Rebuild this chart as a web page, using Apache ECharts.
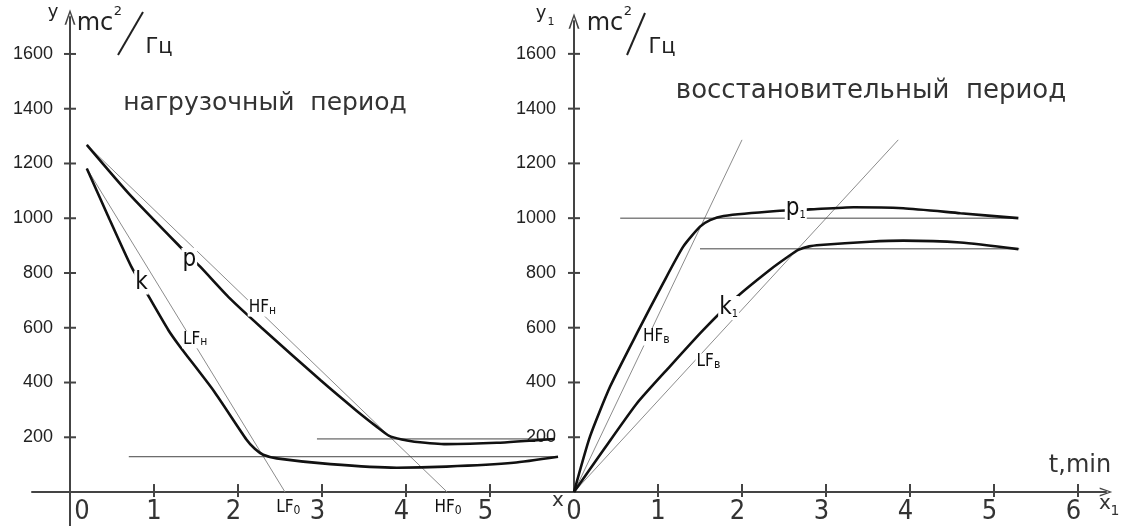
<!DOCTYPE html>
<html>
<head>
<meta charset="utf-8">
<script src="https://cdn.jsdelivr.net/npm/echarts@6/dist/echarts.min.js"></script>
<style>
html, body { margin: 0; padding: 0; background: #fff; }
#chart { width: 1126px; height: 526px; }
</style>
</head>
<body>
<div id="chart"></div>
<script>
// нагрузочный период (left panel), x in min, y in mc2/Гц
var pLoad = [[0.2, 1268], [0.7, 1090], [1.31, 896], [1.55, 823], [1.9, 708], [2.28, 600], [2.98, 409], [3.4, 300], [3.65, 239], [3.8, 205], [3.95, 192], [4.1, 184], [4.48, 175], [5.08, 180], [5.77, 194]]
var kLoad = [[0.2, 1182], [0.45, 1010], [0.73, 823], [0.93, 718], [1.17, 592], [1.31, 531], [1.71, 370], [2.1, 192], [2.2, 158], [2.3, 136], [2.46, 123], [3.1, 102], [3.89, 89], [4.48, 93], [5.28, 107], [5.81, 129]]
var hfLoad = [[0.2, 1268], [4.49, 0]]
var lfLoad = [[0.2, 1182], [2.56, 0]]
var pLoadLevel = [[2.94, 194], [5.77, 194]]
var kLoadLevel = [[0.7, 129], [5.8, 129]]

// восстановительный период (right panel)
var pRest = [[0, 0], [0.19, 202], [0.43, 385], [0.75, 580], [1.06, 762], [1.3, 896], [1.5, 969], [1.62, 993], [1.78, 1008], [2.41, 1026], [2.81, 1032], [3.33, 1040], [3.92, 1036], [4.6, 1018], [5.29, 1000]]
var kRest = [[0, 0], [0.35, 153], [0.75, 324], [1.14, 458], [1.54, 592], [1.94, 713], [2.33, 811], [2.55, 860], [2.67, 884], [2.8, 897], [2.93, 902], [3.52, 914], [3.92, 918], [4.6, 911], [5.29, 887]]
var hfRest = [[0, 0], [2.0, 1286]]
var lfRest = [[0, 0], [3.86, 1286]]
var pRestLevel = [[0.55, 1000], [5.28, 1000]]
var kRestLevel = [[1.5, 888], [5.3, 888]]

// ticks and labels
var yTicks = [200, 400, 600, 800, 1000, 1200, 1400, 1600]
var xTicksLoad = [1, 2, 3, 4, 5]
var xTicksRest = [1, 2, 3, 4, 5, 6]
var xLabelsLoad = [0, 1, 2, 3, 4, 5]
var xLabelsRest = [0, 1, 2, 3, 4, 5, 6]

// annotations: [x, y, text, subscript]
var curveNotesLoad = [[1.42, 848, 'p', ''], [0.85, 765, 'k', '']]
var lineNotesLoad = [[2.29, 672, 'HF', 'н'], [1.49, 556, 'LF', 'н'], [2.6, -58, 'LF', '0'], [4.5, -58, 'HF', '0']]
var curveNotesRest = [[2.64, 1035, 'p', '1'], [1.84, 672, 'k', '1']]
var lineNotesRest = [[0.98, 566, 'HF', 'в'], [1.6, 475, 'LF', 'в']]

var techFont = "'DejaVu Sans Condensed', 'Liberation Sans Narrow', 'DejaVu Sans', sans-serif"
var axisColor = '#444'
var arrow = 'path://M5,0L10,14L8.4,14L5,3.6L1.6,14L0,14Z'

var myChart = echarts.init(document.getElementById('chart'))

function curve(data, xi) {
  return {
    type: 'line', xAxisIndex: xi, yAxisIndex: xi, data: data,
    smooth: 0.2, showSymbol: false, symbol: 'none',
    lineStyle: { color: '#111', width: 2.6 }, z: 3, silent: true
  }
}
function thin(data, xi, color) {
  return {
    type: 'line', xAxisIndex: xi, yAxisIndex: xi, data: data,
    showSymbol: false, symbol: 'none',
    lineStyle: { color: color, width: 1 }, z: 2, silent: true
  }
}
function ticks(xs, ys, xi) {
  return [
    {
      type: 'scatter', xAxisIndex: xi, yAxisIndex: xi, symbol: 'rect',
      symbolSize: [2, 13], symbolOffset: [0, -1.5],
      itemStyle: { color: axisColor, opacity: 1 }, data: xs.map(function (v) { return [v, 0] }), z: 4, silent: true
    },
    {
      type: 'scatter', xAxisIndex: xi, yAxisIndex: xi, symbol: 'rect',
      symbolSize: [12, 2],
      itemStyle: { color: axisColor, opacity: 1 }, data: ys.map(function (v) { return [0, v] }), z: 4, silent: true
    }
  ]
}
function notes(list, xi, big) {
  return {
    type: 'scatter', xAxisIndex: xi, yAxisIndex: xi, symbolSize: 1,
    itemStyle: { color: '#fff', opacity: 1 }, z: 8, silent: true,
    data: list.map(function (n) { return { value: [n[0], n[1]], t: n[2], s: n[3] } }),
    label: {
      show: true, position: 'inside', backgroundColor: '#fff', padding: [0, 1],
      color: '#111', opacity: 1, textBorderWidth: 0, textShadowBlur: 0,
      formatter: function (p) {
        return '{m|' + p.data.t + '}' + (p.data.s ? '{s|' + p.data.s + '}' : '')
      },
      rich: {
        m: { fontFamily: techFont, fontSize: big ? 24 : 17, color: '#111', textBorderWidth: 0 },
        s: { fontFamily: techFont, fontSize: big ? 11 : 12, color: '#111', textBorderWidth: 0, verticalAlign: 'bottom', padding: [big ? 8 : 4, 0, 0, 0] }
      }
    }
  }
}
function xLabelFmt(first) {
  return function (v) {
    if (v === 0 && first) return '{z|0}'
    if (v === 1 || v === 0) return '{c|' + v + '}'
    return '{n|' + v + '}'
  }
}
function yLabelFmt(v) {
  return String(v)
}
var xRich = {
  z: { fontFamily: techFont, fontSize: 27, color: '#333', padding: [0, 0, 0, 24] },
  c: { fontFamily: techFont, fontSize: 27, color: '#333' },
  n: { fontFamily: techFont, fontSize: 27, color: '#333', padding: [0, 9, 0, 0] }
}

var options = {
  animation: false,
  backgroundColor: '#fff',
  grid: [
    { left: 32, right: 552, top: 17, bottom: 0, outerBoundsMode: 'none' },
    { left: 574, right: 20, top: 21, bottom: 34, outerBoundsMode: 'none' }
  ],
  xAxis: [
    {
      gridIndex: 0, type: 'value', min: -0.4524, max: 6, offset: -34,
      axisLine: { onZero: false, lineStyle: { color: axisColor, width: 2 } },
      axisTick: { show: false }, splitLine: { show: false },
      axisLabel: { customValues: xLabelsLoad, margin: 6, formatter: xLabelFmt(true), rich: xRich }
    },
    {
      gridIndex: 1, type: 'value', min: 0, max: 6.333,
      axisLine: { onZero: false, symbol: ['none', arrow], symbolSize: [9, 20], lineStyle: { color: axisColor, width: 2 } },
      axisTick: { show: false }, splitLine: { show: false },
      axisLabel: { customValues: xLabelsRest, margin: 6, formatter: xLabelFmt(false), rich: xRich }
    }
  ],
  yAxis: [
    {
      gridIndex: 0, type: 'value', min: -124, max: 1735, offset: -38,
      axisLine: { show: true, onZero: false, symbol: ['none', arrow], symbolSize: [11, 17], lineStyle: { color: axisColor, width: 2 } },
      axisTick: { show: false }, splitLine: { show: false },
      axisLabel: { customValues: yTicks, margin: 17, formatter: yLabelFmt, fontFamily: 'Liberation Sans', fontSize: 18, color: '#222' }
    },
    {
      gridIndex: 1, type: 'value', min: 0, max: 1720,
      axisLine: { show: true, onZero: false, symbol: ['none', arrow], symbolSize: [11, 17], lineStyle: { color: axisColor, width: 2 } },
      axisTick: { show: false }, splitLine: { show: false },
      axisLabel: { customValues: yTicks, margin: 18, formatter: yLabelFmt, fontFamily: 'Liberation Sans', fontSize: 18, color: '#222' }
    }
  ],
  graphic: [
    // заголовки
    { type: 'text', x: 265, y: 103, style: { text: 'нагрузочный  период', font: "25px 'DejaVu Sans'", fill: '#333', textAlign: 'center', textVerticalAlign: 'middle' } },
    { type: 'text', x: 871, y: 91, style: { text: 'восстановительный  период', font: "26px 'DejaVu Sans'", fill: '#333', textAlign: 'center', textVerticalAlign: 'middle' } },
    // единицы, левая ось
    { type: 'text', x: 53, y: 12, style: { text: 'y', font: "18px 'DejaVu Sans'", fill: '#222', textAlign: 'center', textVerticalAlign: 'middle' } },
    { type: 'text', x: 95, y: 24, style: { text: 'mc', font: "24px 'DejaVu Sans'", fill: '#222', textAlign: 'center', textVerticalAlign: 'middle' } },
    { type: 'text', x: 118, y: 12, style: { text: '2', font: "13px 'DejaVu Sans'", fill: '#222', textAlign: 'center', textVerticalAlign: 'middle' } },
    { type: 'line', shape: { x1: 118, y1: 55, x2: 143, y2: 12 }, style: { stroke: '#222', lineWidth: 2 } },
    { type: 'text', x: 159, y: 48, style: { text: 'Гц', font: "21px 'DejaVu Sans'", fill: '#222', textAlign: 'center', textVerticalAlign: 'middle' } },
    // единицы, правая ось
    { type: 'text', x: 541, y: 13, style: { text: 'y', font: "18px 'DejaVu Sans'", fill: '#222', textAlign: 'center', textVerticalAlign: 'middle' } },
    { type: 'text', x: 551, y: 22, style: { text: '1', font: "11px 'DejaVu Sans'", fill: '#222', textAlign: 'center', textVerticalAlign: 'middle' } },
    { type: 'text', x: 605, y: 24, style: { text: 'mc', font: "24px 'DejaVu Sans'", fill: '#222', textAlign: 'center', textVerticalAlign: 'middle' } },
    { type: 'text', x: 628, y: 12, style: { text: '2', font: "13px 'DejaVu Sans'", fill: '#222', textAlign: 'center', textVerticalAlign: 'middle' } },
    { type: 'line', shape: { x1: 627, y1: 55, x2: 645, y2: 13 }, style: { stroke: '#222', lineWidth: 2 } },
    { type: 'text', x: 662, y: 48, style: { text: 'Гц', font: "21px 'DejaVu Sans'", fill: '#222', textAlign: 'center', textVerticalAlign: 'middle' } },
    // подписи осей x
    { type: 'text', x: 558, y: 501, style: { text: 'x', font: "20px 'DejaVu Sans'", fill: '#333', textAlign: 'center', textVerticalAlign: 'middle' } },
    { type: 'text', x: 1105, y: 504, style: { text: 'x', font: "20px 'DejaVu Sans'", fill: '#333', textAlign: 'center', textVerticalAlign: 'middle' } },
    { type: 'text', x: 1115, y: 511, style: { text: '1', font: "14px 'DejaVu Sans'", fill: '#333', textAlign: 'center', textVerticalAlign: 'middle' } },
    { type: 'text', x: 1080, y: 466, style: { text: 't,min', font: "24px 'DejaVu Sans'", fill: '#333', textAlign: 'center', textVerticalAlign: 'middle' } }
  ],
  series: [
    curve(pLoad, 0), curve(kLoad, 0),
    thin(hfLoad, 0, '#8c8c8c'), thin(lfLoad, 0, '#8c8c8c'),
    thin(pLoadLevel, 0, '#444'), thin(kLoadLevel, 0, '#444'),
    curve(pRest, 1), curve(kRest, 1),
    thin(hfRest, 1, '#8c8c8c'), thin(lfRest, 1, '#8c8c8c'),
    thin(pRestLevel, 1, '#444'), thin(kRestLevel, 1, '#444'),
    notes(curveNotesLoad, 0, true), notes(lineNotesLoad, 0, false),
    notes(curveNotesRest, 1, true), notes(lineNotesRest, 1, false)
  ].concat(ticks(xTicksLoad, yTicks, 0)).concat(ticks(xTicksRest, yTicks, 1))
}
myChart.setOption(options)
</script>
</body>
</html>
